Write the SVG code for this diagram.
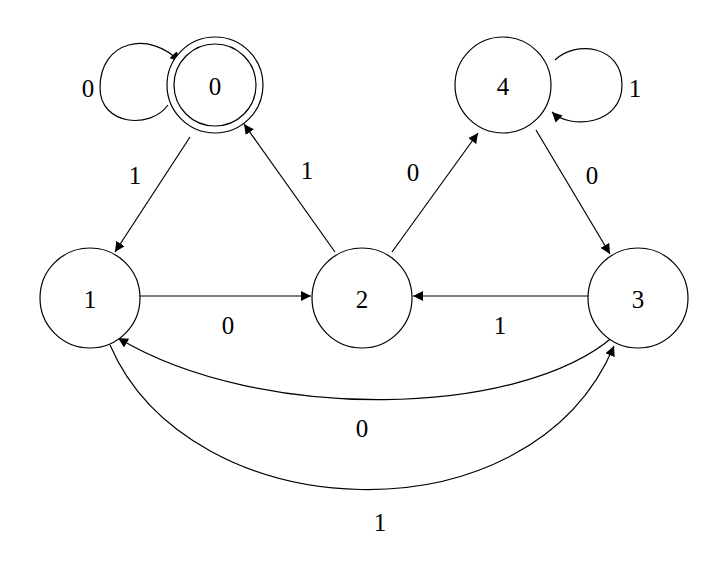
<svg xmlns="http://www.w3.org/2000/svg" width="720" height="570" viewBox="0 0 720 570">
<style>
.n{fill:#fff;stroke:#000;stroke-width:1.2}
.e{fill:none;stroke:#000;stroke-width:1.2;marker-end:url(#a)}
text{font-family:"Liberation Serif",serif;font-size:25px;text-anchor:middle;dominant-baseline:central}
</style>
<defs><marker id="a" viewBox="0 0 10 10" refX="10" refY="5" markerWidth="10" markerHeight="10" markerUnits="userSpaceOnUse" orient="auto"><path d="M0,0L10,5L0,10z"/></marker></defs>
<rect width="720" height="570" fill="#fff"/>
<g id="edges">
<path class="e" d="M168,105 C150,130 100,125 100,88 C100,40 150,30 180,62"/>
<path class="e" d="M555,60 C575,40 622,45 622,85 C622,125 570,130 552,112"/>
<path class="e" d="M190,137 L115,252"/>
<path class="e" d="M335,252 L244,124"/>
<path class="e" d="M392,252 L478,133"/>
<path class="e" d="M536,130 L610,254"/>
<path class="e" d="M140,296 L311,296"/>
<path class="e" d="M588,296 L413,296"/>
<path class="e" d="M614,336 C520,418 260,423 118,338"/>
<path class="e" d="M110,345 C190,530 530,545 614,346"/>
</g>
<g id="labels">
<text x="88" y="88">0</text><text x="635" y="88">1</text>
<text x="135" y="175">1</text><text x="307" y="170">1</text>
<text x="413" y="172">0</text><text x="592" y="175">0</text>
<text x="228" y="325">0</text><text x="500" y="325">1</text>
<text x="362" y="428">0</text><text x="380" y="522">1</text>
</g>
<g id="n0"><circle class="n" cx="215" cy="85" r="48"/><circle class="n" cx="215" cy="85" r="41"/><text x="215" y="86">0</text></g>
<g id="n4"><circle class="n" cx="503" cy="85" r="48"/><text x="503" y="86">4</text></g>
<g id="n1"><circle class="n" cx="90" cy="298" r="50"/><text x="90" y="299">1</text></g>
<g id="n2"><circle class="n" cx="362" cy="298" r="50"/><text x="362" y="299">2</text></g>
<g id="n3"><circle class="n" cx="638" cy="298" r="50"/><text x="638" y="299">3</text></g>
</svg>
